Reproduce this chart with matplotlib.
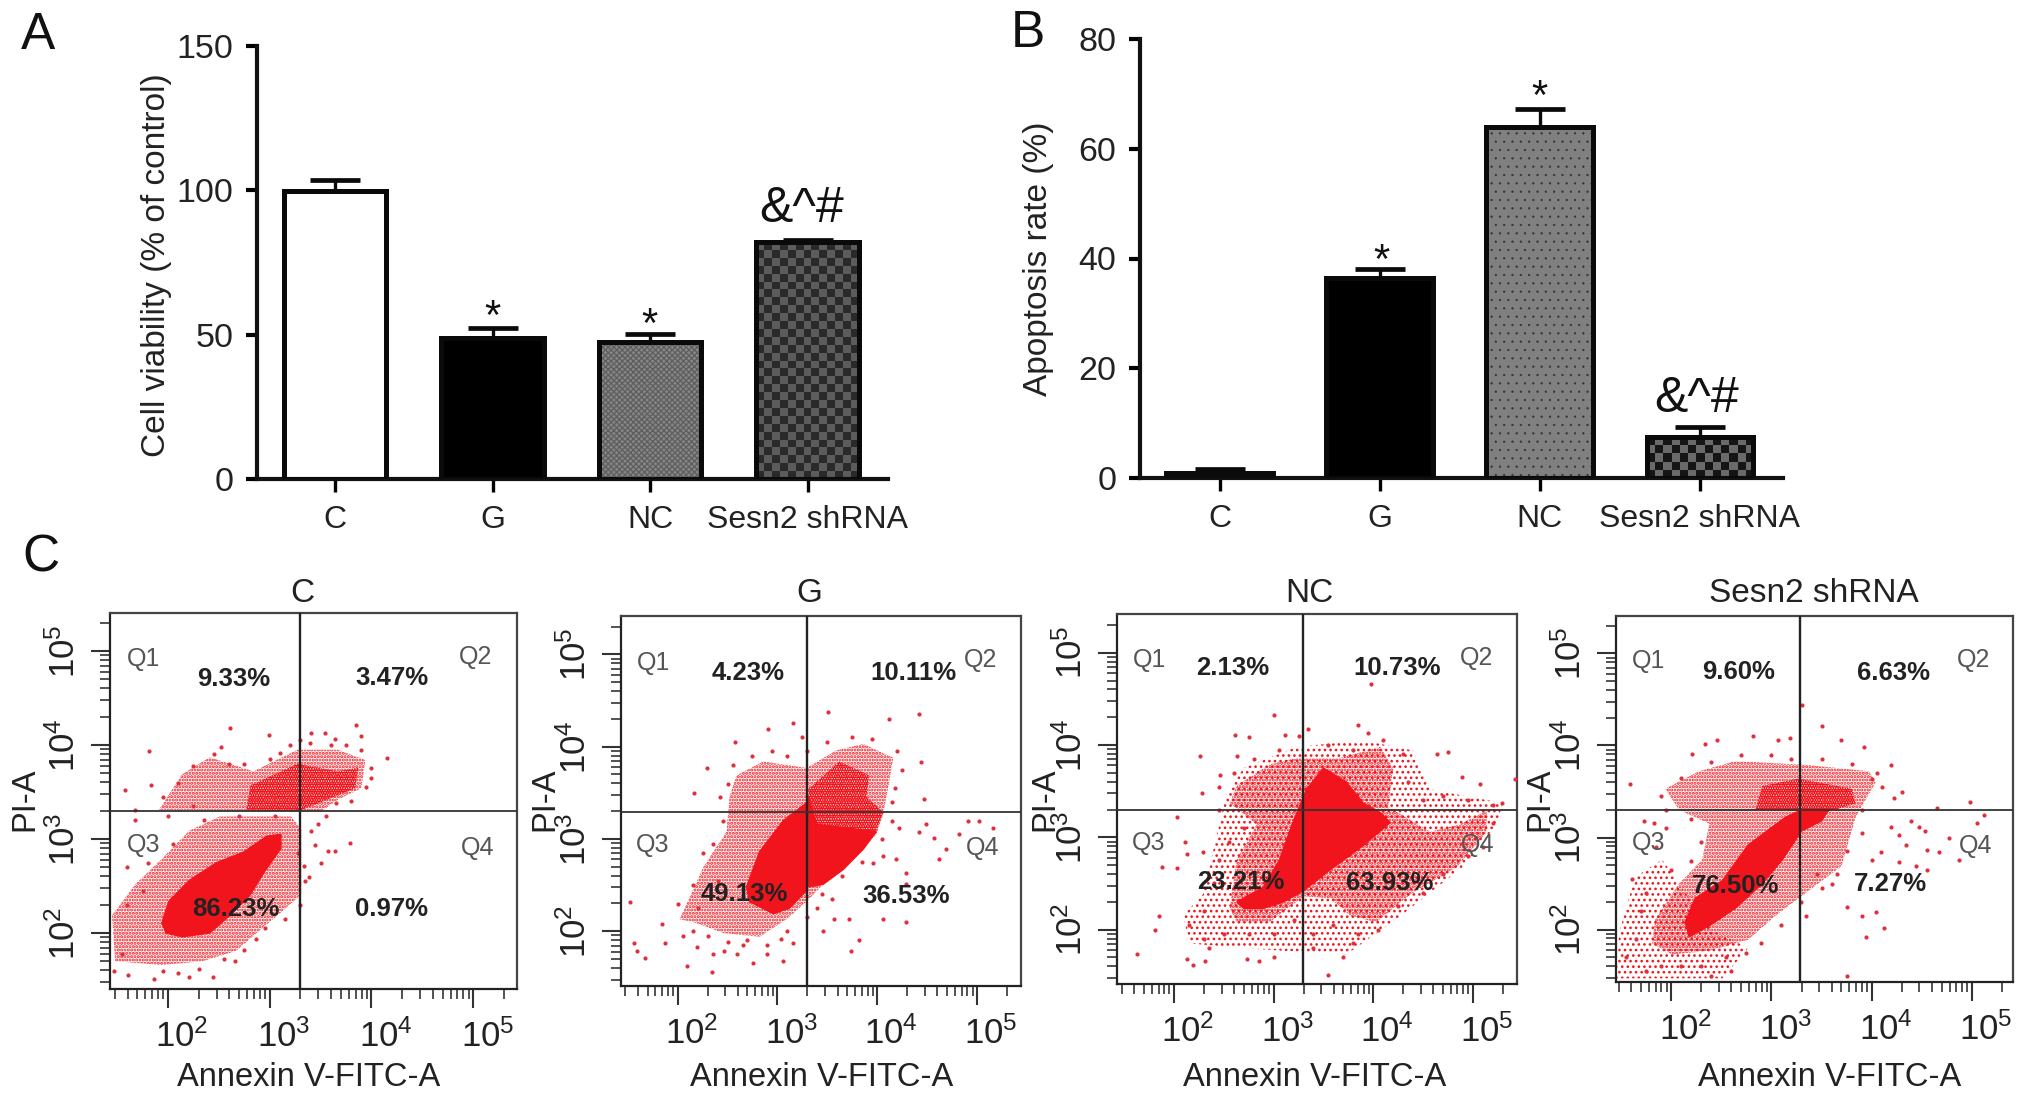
import matplotlib
matplotlib.use("Agg")
import matplotlib.pyplot as plt
from matplotlib.patches import Polygon
from matplotlib.colors import ListedColormap
from matplotlib.transforms import ScaledTranslation
from matplotlib.ticker import LogLocator, FixedLocator, NullFormatter, FixedFormatter
import numpy as np

W, H = 2032, 1101
plt.rcParams['font.family'] = ['Liberation Sans', 'DejaVu Sans']
plt.rcParams['mathtext.fontset'] = 'custom'
plt.rcParams['mathtext.rm'] = 'Liberation Sans'
plt.rcParams['mathtext.default'] = 'regular'

# ---------- bar data ----------
groups = ['C', 'G', 'NC', 'Sesn2 shRNA']
viability = [99.7, 49, 47.3, 82]
viability_err = [4, 3.2, 2.9, 0.8]
apoptosis = [1.0, 36.5, 64.0, 7.4]
apoptosis_err = [0.7, 1.6, 3.3, 1.9]
viability_ticks = [0, 50, 100, 150]
apoptosis_ticks = [0, 20, 40, 60, 80]

# ---------- flow panels: log10 values ----------
panel_titles = ['C', 'G', 'NC', 'Sesn2 shRNA']
q1_pct = ['9.33%', '4.23%', '2.13%', '9.60%']
q2_pct = ['3.47%', '10.11%', '10.73%', '6.63%']
q3_pct = ['86.23%', '49.13%', '23.21%', '76.50%']
q4_pct = ['0.97%', '36.53%', '63.93%', '7.27%']

c_solid = [[(1.94,2.11),(2.01,2.34),(2.21,2.56),(2.48,2.75),(2.74,2.86),(2.97,3.03),(3.11,3.05),(3.11,2.90),
            (2.94,2.64),(2.81,2.41),(2.61,2.19),(2.41,2.0),(2.14,1.96),(1.98,2.0)]]
c_dense = [[(2.77,3.31),(2.81,3.57),(3.27,3.80),(3.67,3.72),(3.87,3.76),(3.84,3.54),(3.50,3.39),(3.27,3.29)]]
c_medium = [[(1.45,2.19),(1.68,2.52),(1.94,2.79),(2.21,3.09),(2.51,3.24),(3.21,3.24),(3.31,3.1),(3.31,2.41),
             (3.11,2.22),(2.87,2.0),(2.67,1.81),(2.34,1.70),(1.94,1.66),(1.48,1.70)],
            [(1.91,3.31),(2.14,3.69),(2.41,3.87),(2.84,3.72),(3.27,3.95),(3.67,3.95),(3.94,3.84),(3.90,3.54),
             (3.67,3.42),(3.5,3.29)]]
c_sparse = []
c_points = [(2.61,4.18),(1.81,3.94),(1.58,3.52),(2.99,4.11),(2.52,3.98),(3.85,4.21),(4.15,3.86),(4.0,3.76),
            (3.54,4.13),(3.41,4.13),(3.79,2.96),(3.64,2.87),(3.57,2.87),(3.50,2.75),(3.44,2.94),(3.47,3.16),
            (3.39,2.60),(3.41,3.09),(3.34,2.71),(1.61,1.55),(1.86,1.51),(2.44,1.53),(2.66,1.70),(2.86,1.94),
            (1.68,3.31),(1.83,3.57),(3.64,4.06),(3.90,4.10),(3.90,3.95),(1.68,3.20),(2.21,1.53),
            (1.47,1.6),(1.55,1.78),(1.6,2.3),(1.75,2.45),(1.95,1.6),(2.1,1.58),(2.3,1.62),(2.55,1.72),(2.75,1.82),
            (2.95,2.05),(3.15,2.15),(3.3,2.3),(3.35,2.55),(3.28,2.85),(3.05,3.25),(2.7,3.25),(2.35,3.2),(2.05,2.95),
            (1.8,2.75),(1.6,2.7),(2.25,3.35),(2.0,3.25),(1.95,3.45),(2.1,3.6),(2.25,3.78),(2.45,3.9),(2.6,3.8),
            (2.75,3.8),(3.0,3.85),(3.1,3.92),(3.4,4.02),(3.6,4.0),(3.75,4.0),(4.0,3.65),(3.95,3.55),(3.8,3.4),
            (3.65,3.38),(3.55,3.25),(3.2,4.0),(3.3,4.05)]

g_solid = [[(2.69,2.48),(2.82,2.86),(3.06,3.20),(3.29,3.39),(3.29,2.44),(3.12,2.25),(2.96,2.19),(2.72,2.32)],
           [(3.31,2.48),(3.31,3.46),(3.39,3.16),(3.99,3.08),(3.86,2.89),(3.66,2.67),(3.46,2.51)]]
g_dense = [[(3.31,3.54),(3.62,3.84),(3.92,3.69),(3.89,3.46),(4.06,3.29),(3.99,3.08),(3.46,3.10),(3.31,3.2)]]
g_medium = [[(2.02,2.13),(2.26,2.70),(2.49,3.08),(2.52,3.46),(2.59,3.69),(2.86,3.84),(3.29,3.77),(3.59,3.96),
             (3.86,4.03),(4.16,3.88),(4.12,3.62),(4.06,3.27),(3.99,3.05),(3.72,2.74),(3.46,2.51),(3.29,2.32),
             (3.09,2.13),(2.82,1.94),(2.46,1.98),(2.16,2.10)]]
g_sparse = []
g_points = [(1.52,2.32),(1.56,1.87),(1.59,1.79),(1.67,1.71),(1.84,2.08),(1.87,1.87),(2.09,1.62),(2.19,1.83),
            (2.34,1.56),(2.46,1.79),(2.66,1.85),(2.76,1.66),(3.04,1.92),(3.16,1.87),(3.06,1.68),(4.22,3.12),
            (4.42,3.08),(4.49,3.16),(4.57,3.01),(4.69,2.89),(4.82,3.05),(5.02,3.20),(5.16,3.12),(4.91,3.20),
            (4.62,2.78),(4.29,2.63),(4.19,2.78),(4.06,2.82),(3.96,2.74),(4.29,2.51),(4.06,2.13),(4.29,2.10),
            (3.82,1.90),(3.74,1.79),(3.46,2.0),(3.57,2.13),(3.72,2.13),(4.47,3.43),(4.44,3.83),(4.42,4.36),
            (4.12,4.30),(3.51,4.38),(2.91,4.19),(2.57,4.05),(3.16,4.26),(2.29,3.77),(2.16,3.50),
            (2.05,1.95),(2.0,2.3),(2.15,2.5),(2.25,2.85),(2.35,2.95),(2.45,3.2),(2.42,3.45),(2.5,3.6),(2.55,3.8),
            (2.75,3.9),(2.95,3.95),(3.1,3.9),(3.25,4.1),(3.3,3.95),(3.5,4.05),(3.75,4.1),(3.95,4.08),(4.2,3.95),
            (4.25,3.75),(4.18,3.55),(4.15,3.4),(4.15,3.2),(4.05,3.0),(3.85,2.75),(3.65,2.6),(3.45,2.4),(3.3,2.15),
            (3.1,2.0),(2.9,1.85),(2.7,1.9),(2.5,1.88),(2.3,1.95),(2.15,2.0),(2.35,1.75),(2.6,1.75),(2.9,1.75),
            (3.4,2.25),(3.55,2.35),(2.2,2.25),(2.4,2.55)]

n_solid = [[(2.63,2.30),(2.90,2.46),(3.06,2.76),(3.20,3.18),(3.33,3.52),(3.50,3.75),(3.73,3.60),(3.90,3.37),
            (4.07,3.27),(4.17,3.16),(3.90,2.91),(3.57,2.65),(3.30,2.42),(3.10,2.30),(2.90,2.23),(2.70,2.23)]]
n_dense = []
n_medium = [[(2.56,2.23),(2.63,2.76),(2.83,3.14),(2.56,3.37),(2.63,3.56),(2.96,3.79),(3.23,3.86),(3.67,3.86),
             (4.07,3.98),(4.20,3.75),(4.15,3.33),(4.57,3.06),(4.87,3.14),(5.14,3.29),(5.14,3.06),(4.84,2.68),
             (4.37,2.38),(4.03,2.08),(3.77,2.15),(3.57,2.34),(3.30,2.36),(2.96,2.08),(2.63,2.08)]]
n_sparse = [[(2.09,2.15),(2.29,2.38),(2.53,3.48),(2.70,3.75),(3.23,3.98),(3.90,4.05),(4.40,3.94),(4.57,3.52),
             (5.30,3.37),(5.24,3.14),(4.90,2.68),(4.23,2.11),(3.73,1.73),(3.10,1.77),(2.56,1.81),(2.16,1.85)]]
n_points = [(1.63,1.73),(1.85,2.15),(1.81,2.0),(2.13,1.68),(2.19,1.62),(2.31,1.66),(2.85,1.66),(2.73,1.68),
            (3.55,1.51),(3.70,1.70),(2.03,3.22),(2.11,2.95),(2.13,2.82),(2.29,2.84),(1.88,2.68),(2.03,2.67),
            (2.26,3.88),(2.63,3.88),(2.75,4.09),(2.61,4.11),(3.0,4.33),(3.11,4.11),(3.98,4.66),(3.85,4.22),
            (3.95,4.13),(3.35,4.17),(4.64,3.90),(4.75,3.92),(4.89,3.65),(5.07,3.58),(5.42,3.63),(5.29,3.37),
            (2.28,3.48),(2.46,3.67),
            (2.15,2.05),(2.3,2.2),(2.4,2.5),(2.45,2.75),(2.55,2.95),(2.7,3.1),(2.45,3.3),(2.45,3.55),(2.6,3.7),
            (2.8,3.85),(3.05,3.95),(3.25,4.1),(3.55,4.0),(3.8,3.95),(4.1,4.05),(4.3,3.9),(4.35,3.6),(4.5,3.4),
            (4.7,3.45),(4.95,3.4),(5.2,3.35),(5.2,3.15),(5.1,2.9),(4.95,2.8),(4.7,2.6),(4.5,2.4),(4.25,2.25),
            (4.05,2.0),(3.85,1.95),(3.6,2.05),(3.4,1.95),(3.2,2.1),(3.0,1.95),(2.75,1.95),(2.5,1.95),(2.3,1.9),
            (3.0,1.7),(3.4,1.8),(3.8,1.85),(2.35,1.8)]

s_solid = [[(2.14,2.08),(2.24,2.34),(2.51,2.53),(2.77,2.92),(3.14,3.22),(3.30,3.30),(3.57,3.30),(3.50,3.18),
            (3.30,3.07),(3.11,2.76),(2.91,2.50),(2.64,2.23),(2.38,2.04),(2.18,1.92)]]
s_dense = [[(2.84,3.30),(2.91,3.56),(3.27,3.64),(3.80,3.53),(3.84,3.37),(3.57,3.28)]]
s_medium = [[(1.81,1.85),(1.84,2.11),(2.08,2.50),(2.31,2.76),(2.38,3.15),(2.08,3.30),(1.94,3.53),(2.28,3.72),
             (2.64,3.83),(3.34,3.79),(3.97,3.72),(4.04,3.60),(3.84,3.22),(3.70,2.69),(3.37,2.42),(3.04,2.15),
             (2.77,1.89),(2.38,1.77),(2.01,1.73)]]
s_sparse = [[(1.46,1.47),(1.48,1.96),(1.64,2.57),(1.91,2.76),(2.4,2.0),(2.77,1.8),(2.51,1.47)]]
s_points = [(4.30,3.49),(4.22,3.43),(4.0,3.64),(4.19,3.79),(4.65,3.32),(4.98,3.39),(5.12,3.24),(5.05,3.16),
            (4.39,3.18),(4.47,3.11),(4.53,3.07),(4.19,3.11),(4.27,3.03),(4.34,2.92),(4.55,2.86),(4.67,2.84),
            (4.77,2.99),(4.87,2.76),(4.09,2.84),(4.0,2.76),(4.27,2.73),(4.55,2.65),(4.44,2.69),(3.90,2.15),
            (4.04,2.19),(4.12,2.02),(3.94,1.92),(3.75,2.25),(3.75,1.50),(3.50,4.21),(3.07,4.06),(3.19,4.08),
            (2.34,4.02),(2.46,4.06),(2.82,4.10),(1.59,3.58),(2.21,3.91),(3.69,4.06),(3.92,3.98),(3.31,4.44),
            (1.61,2.55),(1.83,3.16),(1.73,3.18),
            (1.55,1.7),(1.7,2.2),(1.75,2.4),(2.0,2.65),(2.2,2.75),(2.3,2.95),(2.2,3.2),(1.95,3.3),(1.9,3.45),
            (2.1,3.65),(2.4,3.82),(2.7,3.9),(3.0,3.9),(3.2,3.85),(3.5,3.85),(3.8,3.8),(4.05,3.7),(4.1,3.55),
            (3.9,3.3),(3.9,3.05),(3.75,2.85),(3.65,2.6),(3.5,2.45),(3.3,2.3),(3.1,2.05),(2.9,1.85),(2.75,1.75),
            (2.55,1.7),(2.3,1.6),(2.1,1.6),(1.9,1.6),(1.75,1.55),(2.4,1.5),(2.6,1.55),(1.65,1.9),(3.35,2.15),
            (3.45,2.6),(3.6,2.5),(1.85,2.9),(1.95,3.1)]

solids = [c_solid, g_solid, n_solid, s_solid]
denses = [c_dense, g_dense, n_dense, s_dense]
mediums = [c_medium, g_medium, n_medium, s_medium]
sparses = [c_sparse, g_sparse, n_sparse, s_sparse]
points = [c_points, g_points, n_points, s_points]
gate_x = [3.30, 3.30, 3.29, 3.29]
gate_y = [3.30, 3.29, 3.30, 3.30]

# ---------- layout (pixels) ----------
fig = plt.figure(figsize=(W/100, H/100), dpi=100, facecolor='white')


def add_axes(l, r, t, b):
    return fig.add_axes([l/W, 1-b/H, (r-l)/W, (b-t)/H])


def ptext(x, y, s, **kw):
    return fig.text(x/W, 1-y/H, s, **kw)


def bar_panel(box, xlim, width, values, errs, ymax, ticks, ylabel, ylab_xy, styles):
    ax = add_axes(*box)
    xs = np.arange(len(values))
    pxw = (box[1]-box[0])/(xlim[1]-xlim[0])
    pxh = (box[3]-box[2])/ymax
    for x, v, st in zip(xs, values, styles):
        if 'checker' in st:
            c, colors = st['checker'], st['colors']
            nx = max(1, int(round(width*pxw/c)))
            ny = max(1, int(round(v*pxh/c)))
            grid = np.indices((ny, nx)).sum(axis=0) % 2
            ax.imshow(grid, extent=(x-width/2, x+width/2, 0, v), origin='lower', aspect='auto',
                      cmap=ListedColormap(colors), interpolation='nearest', zorder=2)
        else:
            plt.rcParams['hatch.linewidth'] = st['hlw']
            ax.bar(x, v, width, color=st['fc'], edgecolor=st['hc'], hatch=st['hatch'], linewidth=0, zorder=2)
        ax.bar(x, v, width, color='none', edgecolor='#0a0a0a', linewidth=3.6, zorder=3)
    ax.errorbar(xs, values, yerr=[np.zeros(4), errs], fmt='none', ecolor='#0a0a0a', elinewidth=2.4,
                capsize=18, capthick=3.4, zorder=2.5)
    ax.set_xlim(*xlim)
    ax.set_ylim(0, ymax)
    for side in ('top', 'right'):
        ax.spines[side].set_visible(False)
    for side in ('left', 'bottom'):
        ax.spines[side].set_linewidth(3.0)
        ax.spines[side].set_color('#111111')
    ax.set_xticks(xs, groups, fontsize=23, color='#222222')
    ax.set_yticks(ticks)
    ax.set_yticklabels([str(t) for t in ticks], fontsize=24.5, color='#222222')
    ax.tick_params(axis='x', length=9.5, width=2.4, pad=9)
    ax.tick_params(axis='y', length=8, width=3.0, pad=9)
    ax.patch.set_alpha(0)
    ptext(ylab_xy[0], ylab_xy[1], ylabel, rotation=90, ha='center', va='center', fontsize=24, color='#222222')
    return ax


plain = dict(fc='white', hc='white', hatch=None, hlw=1)
black = dict(fc='black', hc='black', hatch=None, hlw=1)
bar_panel((257, 888, 46, 479), (-0.495, 3.51), 0.65, viability, viability_err, 150, viability_ticks,
          'Cell viability (% of control)', (156, 265),
          [plain, black, dict(fc='#868686', hc='#5e5e5e', hatch='xxxxxx', hlw=0.9),
           dict(checker=8, colors=['#2a2a2a', '#5c5c5c'])])
bar_panel((1140, 1783, 39, 478), (-0.497, 3.52), 0.665, apoptosis, apoptosis_err, 80, apoptosis_ticks,
          'Apoptosis rate (%)', (1038, 259),
          [plain, black, dict(fc='#808080', hc='#333333', hatch='..', hlw=0.4),
           dict(checker=8, colors=['#151515', '#6a6a6a'])])

# annotations on the bars
for x, y, s, size in [(492, 329, '*', 30), (649, 337, '*', 30), (1381, 273, '*', 30), (1539, 109, '*', 30),
                      (802, 222, '&^#', 36), (1697, 412, '&^#', 36)]:
    ptext(x, y, s, ha='center', va='baseline', fontsize=size, color='#111111')

for x, y, s in [(21, 49, 'A'), (1011, 47, 'B'), (22, 571, 'C')]:
    ptext(x, y, s, ha='left', va='baseline', fontsize=37, color='#111111')

# ---------- flow panels ----------
boxes = [(110, 517, 612.5, 988.5), (620.7, 1021, 615.7, 985.7), (1116.7, 1516.7, 614, 984), (1616, 2013, 615.7, 982)]
xlims = [(1.43, 5.43), (1.43, 5.44), (1.425, 5.44), (1.45, 5.41)]
ylims = [(1.41, 5.41), (1.41, 5.42), (1.41, 5.42), (1.43, 5.41)]
title_xy = [(302, 594), (809, 594), (1309, 594), (1814, 594)]
xlabel_x = [309, 822, 1315, 1830]
ylabel_x = [25, 545, 1045, 1540]
q_xy = [[(144, 659), (476, 657), (144, 845), (478, 848)],
        [(654, 663), (981, 660), (653, 845), (983, 848)],
        [(1150, 660), (1477, 658), (1149, 843), (1478, 845)],
        [(1649, 661), (1974, 660), (1649, 843), (1976, 846)]]
pct_xy = [[(234, 679), (392, 678), (236, 909), (392, 909)],
          [(748, 673), (913, 673), (744, 894), (906, 896)],
          [(1233, 668), (1397, 668), (1241, 882), (1390, 883)],
          [(1739, 672), (1894, 673), (1736, 886), (1890, 884)]]
RED = '#f2141c'


def cloud(ax, polys, hatch, hlw, solid=False):
    for poly in polys:
        a = np.array(poly)
        xy = np.column_stack([10**a[:, 0], 10**a[:, 1]])
        plt.rcParams['hatch.linewidth'] = hlw
        if solid:
            ax.add_patch(Polygon(xy, closed=True, fc=RED, ec=RED, lw=1, zorder=4))
        else:
            ax.add_patch(Polygon(xy, closed=True, fc='none', ec=RED, lw=0, hatch=hatch, zorder=3))


for i in range(4):
    ax = add_axes(*boxes[i])
    ax.set_xscale('log')
    ax.set_yscale('log')
    ax.set_xlim(10**xlims[i][0], 10**xlims[i][1])
    ax.set_ylim(10**ylims[i][0], 10**ylims[i][1])
    cloud(ax, sparses[i], '...', 1.1)
    cloud(ax, mediums[i], '.....', 1.5)
    cloud(ax, denses[i], '.......', 2.0)
    cloud(ax, solids[i], None, 1.0, solid=True)
    pts = np.array(points[i])
    ax.scatter(10**pts[:, 0], 10**pts[:, 1], s=9, color='#e0303a', linewidths=0, zorder=4)
    ax.axvline(10**gate_x[i], color='#222222', lw=1.7, zorder=5)
    ax.axhline(10**gate_y[i], color='#333333', lw=1.3, zorder=5)
    for s in ax.spines.values():
        s.set_color('#444444')
        s.set_linewidth(1.6)
    ax.spines['left'].set_color('#222222')
    ax.spines['bottom'].set_color('#222222')
    majors = [1e2, 1e3, 1e4, 1e5]
    labels = [rf'$\mathregular{{10^{{{k}}}}}$' for k in (2, 3, 4, 5)]
    for axis in (ax.xaxis, ax.yaxis):
        axis.set_major_locator(FixedLocator(majors))
        axis.set_major_formatter(FixedFormatter(labels))
        axis.set_minor_locator(LogLocator(base=10, subs=range(2, 10), numticks=20))
        axis.set_minor_formatter(NullFormatter())
    ax.tick_params(which='major', length=14, width=1.5, color='#333333', labelsize=25, labelcolor='#222222')
    ax.tick_params(which='minor', length=7, width=1.3, color='#444444')
    ax.tick_params(axis='x', which='major', pad=8)
    ax.tick_params(axis='y', which='major', pad=6)
    shift = ScaledTranslation(14/100, 0, fig.dpi_scale_trans)
    for lab in ax.get_xticklabels():
        lab.set_transform(lab.get_transform() + shift)
    for lab in ax.get_yticklabels():
        lab.set_rotation(90)
        lab.set_va('center')
    ptext(title_xy[i][0], title_xy[i][1], panel_titles[i], ha='center', va='center', fontsize=24, color='#222222')
    ptext(xlabel_x[i], 1077, 'Annexin V-FITC-A', ha='center', va='center', fontsize=23.5, color='#222222')
    ptext(ylabel_x[i], 799, 'PI-A', rotation=90, ha='center', va='center', fontsize=23.5, color='#222222')
    for (x, y), s in zip(q_xy[i], ['Q1', 'Q2', 'Q3', 'Q4']):
        ptext(x, y, s, ha='center', va='center', fontsize=18, color='#555555', zorder=10)
    for (x, y), s in zip(pct_xy[i], [q1_pct[i], q2_pct[i], q3_pct[i], q4_pct[i]]):
        ptext(x, y, s, ha='center', va='center', fontsize=18.5, fontweight='bold', color='#222222', zorder=10)

fig.savefig('out.png', dpi=100, facecolor='white')
